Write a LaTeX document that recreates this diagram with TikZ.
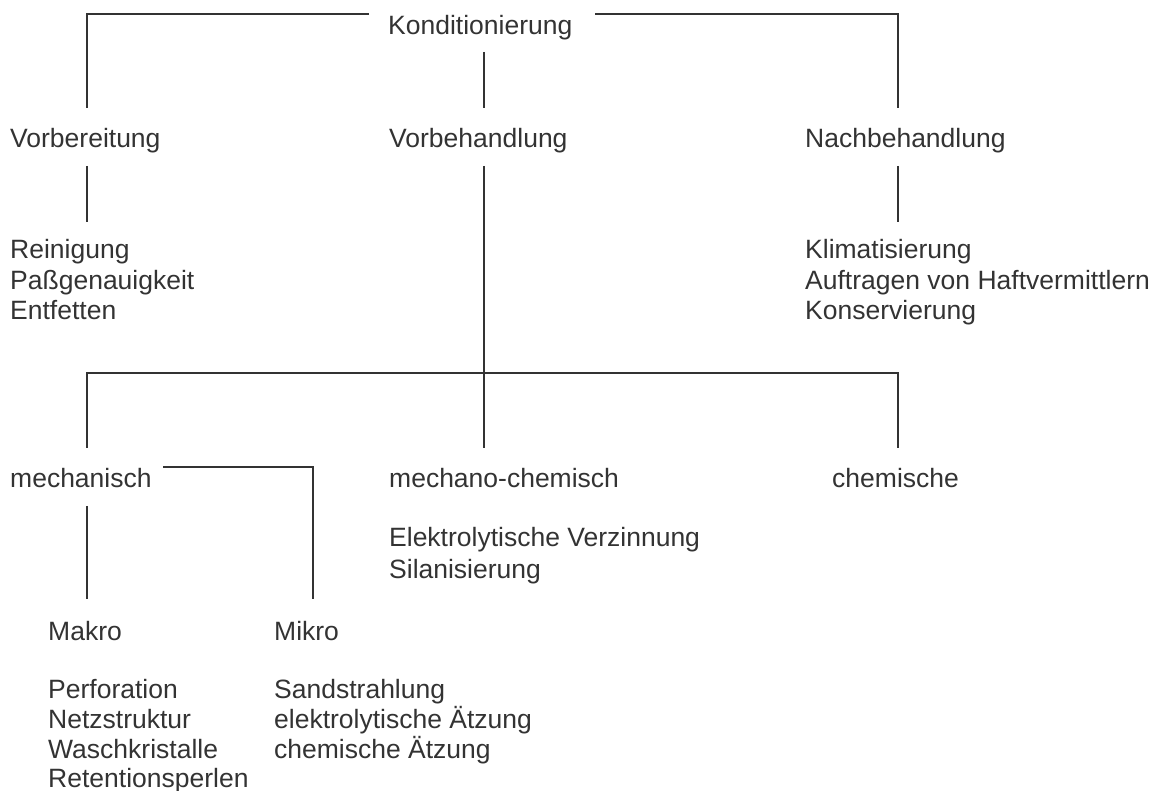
\documentclass[tikz,border=0pt]{standalone}
\usepackage{fontspec}
\setmainfont{Liberation Sans}
\definecolor{ink}{HTML}{333333}
\begin{document}
\begin{tikzpicture}[x=1pt,y=-1pt,
  lbl/.style={anchor=base west,inner sep=0pt,text=ink,font=\fontsize{26.5}{30}\selectfont},
  conn/.style={draw=ink,line width=2.4pt}]
\useasboundingbox (0,0) rectangle (1160,791);
% texts
\node[lbl] (kond) at (388,35) {Konditionierung};
\node[lbl] (vorb) at (10,148) {Vorbereitung};
\node[lbl] (vorbeh) at (389,148) {Vorbehandlung};
\node[lbl] (nach) at (805,148) {Nachbehandlung};
\node[lbl] (rein) at (10,259) {Reinigung};
\node[lbl] (pass) at (10,290) {Paßgenauigkeit};
\node[lbl] (entf) at (10,320) {Entfetten};
\node[lbl] (klim) at (805,259) {Klimatisierung};
\node[lbl] (auft) at (805,290) {Auftragen von Haftvermittlern};
\node[lbl] (kons) at (805,320) {Konservierung};
\node[lbl] (mech) at (10,488) {mechanisch};
\node[lbl] (mechch) at (389,488) {mechano-chemisch};
\node[lbl] (chem) at (832,488) {chemische};
\node[lbl] (elek) at (389,547) {Elektrolytische Verzinnung};
\node[lbl] (sila) at (389,578) {Silanisierung};
\node[lbl] (makro) at (48,640) {Makro};
\node[lbl] (mikro) at (274,640) {Mikro};
\node[lbl] (perf) at (48,698) {Perforation};
\node[lbl] (netz) at (48,728) {Netzstruktur};
\node[lbl] (wasch) at (48,758) {Waschkristalle};
\node[lbl] (ret) at (48,787) {Retentionsperlen};
\node[lbl] (sand) at (274,698) {Sandstrahlung};
\node[lbl] (elaetz) at (274,728) {elektrolytische Ätzung};
\node[lbl] (chaetz) at (274,758) {chemische Ätzung};
% connector points
\coordinate (kL) at (369,14);
\coordinate (kR) at (595,14);
\coordinate (kLc) at (87,14);
\coordinate (kRc) at (898,14);
\coordinate (vorbTop) at (87,108);
\coordinate (nachTop) at (898,108);
\coordinate (kBot) at (484,52);
\coordinate (vorbehTop) at (484,108);
\coordinate (vorbBot) at (87,166);
\coordinate (reinTop) at (87,222);
\coordinate (nachBot) at (898,166);
\coordinate (klimTop) at (898,222);
\coordinate (vorbehBot) at (484,166);
\coordinate (mechchTop) at (484,448);
\coordinate (busL) at (87,373);
\coordinate (busR) at (898,373);
\coordinate (mechTop) at (87,448);
\coordinate (chemTop) at (898,448);
\coordinate (mechR) at (163,467);
\coordinate (mikC) at (313,467);
\coordinate (mikroTop) at (313,599);
\coordinate (mechBot) at (87,506);
\coordinate (makroTop) at (87,599);
% connectors
\draw[conn] (kL) -- (kLc) -- (vorbTop);
\draw[conn] (kR) -- (kRc) -- (nachTop);
\draw[conn] (kBot) -- (vorbehTop);
\draw[conn] (vorbBot) -- (reinTop);
\draw[conn] (nachBot) -- (klimTop);
\draw[conn] (vorbehBot) -- (mechchTop);
\draw[conn] (mechTop) -- (busL) -- (busR) -- (chemTop);
\draw[conn] (mechR) -- (mikC) -- (mikroTop);
\draw[conn] (mechBot) -- (makroTop);
\end{tikzpicture}
\end{document}
